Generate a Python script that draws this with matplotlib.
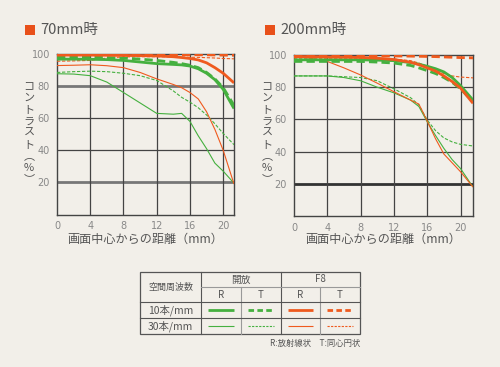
import matplotlib.pyplot as plt
from matplotlib.lines import Line2D

plt.rcParams['font.family'] = ['Noto Sans CJK JP', 'DejaVu Sans']

BG = '#f2efe9'
GREEN = '#45b03f'
ORANGE = '#ef5a1e'
TEXT = '#555555'

# distance from image centre (mm)
x_70 = [0, 2, 4, 6, 8, 10, 12, 14, 15, 16, 17, 18, 19, 20, 21.3]
x_200 = [0, 2, 4, 6, 8, 10, 12, 14, 15, 16, 17, 18, 19, 20, 21.5]

# 70mm  (contrast %)
f8_r10_70 = [99.3, 99.3, 99.3, 99.2, 99.1, 99.0, 98.8, 98.3, 97.8, 97.2, 96.3, 94.5, 91.5, 88.0, 82.0]
f8_t10_70 = [99.7, 99.7, 99.7, 99.7, 99.7, 99.7, 99.7, 99.6, 99.6, 99.6, 99.5, 99.5, 99.4, 99.3, 99.2]
f8_r30_70 = [92.8, 93.0, 93.3, 92.7, 91.5, 88.5, 84.5, 81.0, 79.0, 76.0, 72.0, 64.0, 53.0, 40.0, 19.0]
f8_t30_70 = [95.5, 95.7, 96.0, 97.5, 98.2, 98.3, 98.3, 98.2, 98.1, 98.0, 97.9, 97.7, 97.5, 97.2, 97.0]
op_r10_70 = [96.8, 96.8, 96.7, 96.5, 96.0, 95.0, 94.0, 93.5, 93.2, 92.5, 90.8, 88.0, 84.0, 78.0, 66.0]
op_t10_70 = [98.0, 98.0, 98.0, 97.8, 97.5, 96.8, 96.0, 94.8, 94.0, 93.0, 91.5, 88.5, 84.5, 79.0, 68.0]
op_r30_70 = [87.7, 87.5, 86.5, 82.5, 76.0, 69.5, 63.0, 62.5, 63.0, 58.0, 49.0, 41.0, 32.0, 27.0, 19.5]
op_t30_70 = [88.5, 89.0, 89.3, 89.0, 88.0, 86.5, 83.5, 77.0, 73.0, 70.0, 66.5, 62.0, 56.5, 50.5, 43.5]

# 200mm
f8_r10_200 = [99.0, 99.0, 98.8, 98.7, 98.5, 98.0, 97.2, 95.5, 94.0, 92.0, 90.0, 87.0, 83.5, 79.5, 70.0]
f8_t10_200 = [99.5, 99.5, 99.5, 99.5, 99.5, 99.4, 99.4, 99.3, 99.2, 99.1, 99.0, 98.8, 98.6, 98.4, 98.2]
f8_r30_200 = [99.0, 98.0, 96.0, 92.0, 87.6, 82.5, 77.2, 72.0, 69.5, 59.0, 48.0, 38.5, 33.0, 27.5, 18.0]
f8_t30_200 = [98.0, 98.0, 98.0, 98.0, 98.0, 97.8, 97.5, 96.5, 95.0, 93.0, 90.5, 88.5, 87.0, 86.3, 85.8]
op_r10_200 = [97.0, 97.0, 97.0, 97.0, 97.0, 96.8, 96.5, 95.3, 94.3, 93.0, 91.5, 89.5, 86.0, 81.0, 72.0]
op_t10_200 = [96.0, 96.0, 96.0, 96.0, 96.0, 95.6, 95.0, 93.5, 92.0, 90.3, 88.5, 86.0, 83.0, 79.0, 71.0]
op_r30_200 = [87.0, 87.0, 87.0, 86.0, 84.0, 80.0, 76.5, 72.0, 68.0, 58.5, 50.0, 42.0, 35.0, 29.5, 18.0]
op_t30_200 = [87.0, 87.0, 87.0, 86.5, 86.0, 84.0, 79.0, 73.5, 69.0, 59.6, 53.0, 48.5, 46.0, 44.5, 43.5]

x_ticks = [0, 4, 8, 12, 16, 20]
y_ticks = [20, 40, 60, 80, 100]

THICK = 2.0
THIN = 0.8
DASH = (3, 1.5)


def draw_panel(ax, x, series, xmax, thick_rows):
    ax.set_facecolor(BG)
    for y in [20, 40, 60, 80]:
        if y in thick_rows:
            ax.axhline(y, color=thick_rows[y], lw=2.0, zorder=1)
        else:
            ax.axhline(y, color='#444444', lw=0.9, zorder=1)
    for xv in x_ticks[1:]:
        ax.axvline(xv, color='#444444', lw=0.9, zorder=1)

    for ys, color, lw, dashed in series:
        ln, = ax.plot(x, ys, color=color, lw=lw, zorder=3, solid_capstyle='butt')
        if dashed:
            ln.set_dashes(DASH)

    ax.set_xlim(0, xmax)
    ax.set_ylim(0, 100)
    ax.set_xticks(x_ticks)
    ax.set_yticks(y_ticks)
    ax.tick_params(length=0, labelsize=7, labelcolor='#888888', pad=5)
    for t in ax.get_xticklabels() + ax.get_yticklabels():
        t.set_family('DejaVu Sans')
    for sp in ax.spines.values():
        sp.set_color('#444444')
        sp.set_linewidth(1.0)


fig = plt.figure(figsize=(5, 3.67), dpi=100)
fig.patch.set_facecolor(BG)

ax1 = fig.add_axes([57 / 500, 1 - 214.5 / 367, 177 / 500, 160.5 / 367])
draw_panel(ax1, x_70, [
    (op_t30_70, GREEN, THIN, True),
    (op_r30_70, GREEN, THIN, False),
    (f8_r30_70, ORANGE, THIN, False),
    (f8_t30_70, ORANGE, THIN, True),
    (op_r10_70, GREEN, THICK, False),
    (op_t10_70, GREEN, THICK, True),
    (f8_r10_70, ORANGE, THICK, False),
    (f8_t10_70, ORANGE, THICK, True),
], 21.3, {20: '#777777', 80: '#777777'})

ax2 = fig.add_axes([294 / 500, 1 - 216 / 367, 179 / 500, 161 / 367])
draw_panel(ax2, x_200, [
    (op_t30_200, GREEN, THIN, True),
    (op_r30_200, GREEN, THIN, False),
    (f8_r30_200, ORANGE, THIN, False),
    (f8_t30_200, ORANGE, THIN, True),
    (op_t10_200, GREEN, THICK, True),
    (op_r10_200, GREEN, THICK, False),
    (f8_r10_200, ORANGE, THICK, False),
    (f8_t10_200, ORANGE, THICK, True),
], 21.5, {20: '#333333'})

# overlay in pixel coordinates for titles, labels and the legend table
ov = fig.add_axes([0, 0, 1, 1])
ov.set_xlim(0, 500)
ov.set_ylim(367, 0)
ov.axis('off')
ov.patch.set_alpha(0)

for sx, title in [(25, '70mm時'), (265, '200mm時')]:
    ov.add_patch(plt.Rectangle((sx, 25), 9.5, 9.5, color='#e8501a', lw=0))
    ov.text(sx + 15, 30, title, fontsize=10.5, color=TEXT, va='center', ha='left')

ylab = '\n'.join('コントラスト︵%︶')
for lx in [29, 267]:
    ov.text(lx, 133, ylab, fontsize=8, color=TEXT, ha='center', va='center',
            linespacing=1.2)
for cx in [145, 383]:
    ov.text(cx, 239, '画面中心からの距離（mm）', fontsize=8.7, color=TEXT,
            ha='center', va='center')

# legend table
tl, tr, tt, tb = 140, 360, 272, 334
c1, c2, c3, c4 = 201, 241, 281, 320
r1, r2, r3 = 287, 302, 318
inner = '#999999'
ov.add_patch(plt.Rectangle((tl, tt), tr - tl, tb - tt, fill=False, ec='#555555', lw=0.9))
ov.plot([c1, c1], [tt, tb], color='#555555', lw=0.8)
ov.plot([c3, c3], [tt, tb], color='#555555', lw=0.8)
ov.plot([c2, c2], [r1, tb], color=inner, lw=0.8)
ov.plot([c4, c4], [r1, tb], color=inner, lw=0.8)
ov.plot([c1, tr], [r1, r1], color=inner, lw=0.8)
ov.plot([tl, tr], [r2, r2], color='#555555', lw=0.8)
ov.plot([tl, tr], [r3, r3], color='#555555', lw=0.8)

fs = 7
ov.text((tl + c1) / 2, (tt + r2) / 2, '空間周波数', fontsize=6.5, color=TEXT, ha='center', va='center')
ov.text((c1 + c3) / 2, (tt + r1) / 2, '開放', fontsize=fs, color=TEXT, ha='center', va='center')
ov.text((c3 + tr) / 2, (tt + r1) / 2, 'F8', fontsize=fs, color=TEXT, ha='center', va='center')
for a, b, lab in [(c1, c2, 'R'), (c2, c3, 'T'), (c3, c4, 'R'), (c4, tr, 'T')]:
    ov.text((a + b) / 2, (r1 + r2) / 2, lab, fontsize=fs, color=TEXT, ha='center', va='center')
ov.text((tl + c1) / 2, (r2 + r3) / 2, '10本/mm', fontsize=7.5, color=TEXT, ha='center', va='center')
ov.text((tl + c1) / 2, (r3 + tb) / 2, '30本/mm', fontsize=7.5, color=TEXT, ha='center', va='center')

cols = [(c1, c2, GREEN, False), (c2, c3, GREEN, True), (c3, c4, ORANGE, False), (c4, tr, ORANGE, True)]
for (a, b, color, dashed) in cols:
    for yy, lw in [((r2 + r3) / 2, THICK), ((r3 + tb) / 2, THIN)]:
        ln, = ov.plot([a + 7, b - 7], [yy, yy], color=color, lw=lw, solid_capstyle='butt')
        if dashed:
            ln.set_dashes((2, 1.2))

ov.text(360, 343, 'R:放射線状　T:同心円状', fontsize=6, color=TEXT, ha='right', va='center')

fig.savefig('out.png', dpi=100, facecolor=BG)
